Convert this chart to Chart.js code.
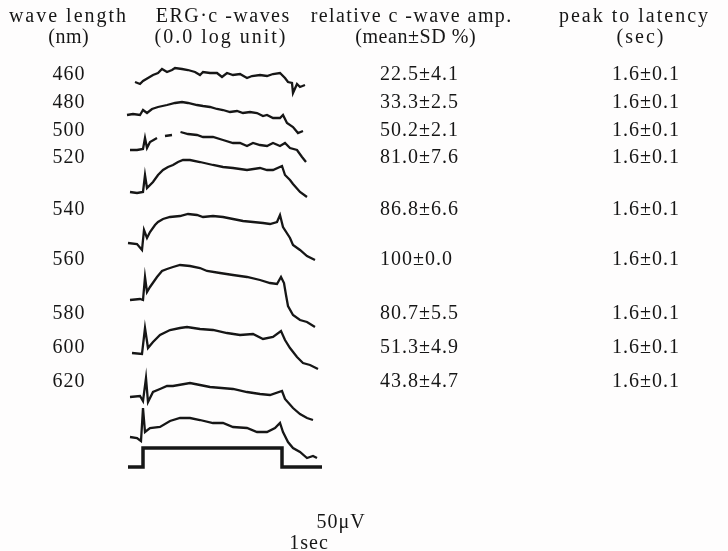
<!doctype html>
<html>
<head>
	<title>ERG c-waves</title>
	<script src="https://cdn.jsdelivr.net/npm/chart.js@4.4.0/dist/chart.umd.min.js"></script>
	<style>
	body { margin: 0; background: #fff; }
	#wrap { width: 728px; height: 551px; position: relative; }
	</style>
</head>
<body>
<div id="wrap"><canvas id="canvas"></canvas></div>
<script>
	// table columns
	var wavelengths = ['460', '480', '500', '520', '540', '560', '580', '600', '620'];
	var relAmp = ['22.5±4.1', '33.3±2.5', '50.2±2.1', '81.0±7.6', '86.8±6.6', '100±0.0', '80.7±5.5', '51.3±4.9', '43.8±4.7'];
	var peakLatency = ['1.6±0.1', '1.6±0.1', '1.6±0.1', '1.6±0.1', '1.6±0.1', '1.6±0.1', '1.6±0.1', '1.6±0.1', '1.6±0.1'];

	// traces: [time (sec from light on), amplitude above pre-stimulus level]
	var trace460 = [[-0.32,1],[-0.12,-1],[0,2],[0.2,5],[0.4,8],[0.6,10],[0.76,14],[0.96,11],[1.16,13],[1.28,15],[1.56,14],[1.8,13],[2.08,11],[2.28,8],[2.4,11],[2.68,10],[2.96,10],[3.16,6],[3.36,10],[3.6,8],[3.88,9],[4.16,5],[4.36,7],[4.68,8],[4.96,7],[5.2,9],[5.48,10],[5.68,5],[5.8,1],[5.96,0],[6.0,-10],[6.16,-1],[6.28,-4],[6.48,-2]];
	var trace480 = [[-0.64,0],[-0.4,1],[-0.12,0],[0,5],[0.16,2],[0.36,6],[0.6,8],[0.96,10],[1.28,12],[1.56,13],[1.8,12],[2.16,10],[2.4,9],[2.68,8],[2.96,6],[3.2,5],[3.48,3],[3.76,4],[4.0,2],[4.28,3],[4.56,2],[4.8,-1],[4.96,0],[5.2,-3],[5.48,-3],[5.6,0],[5.76,-8],[6.0,-12],[6.2,-18],[6.4,-16]];
	// the 500 nm record is broken just after the light-on spike
	var trace500 = [[-0.52,0],[-0.24,0],[0,1],[0.08,12],[0.16,2],[0.28,8],[0.56,12],null,[0.88,14],[1.16,15],null,[1.5,18],[1.8,16],[2.16,15],[2.4,13],[2.8,13],[3.2,10],[3.6,7],[3.88,7],[4.16,4],[4.4,7],[4.68,5],[4.96,4],[5.2,7],[5.48,4],[5.68,7],[5.88,2],[6.16,0],[6.36,-7],[6.52,-12]];
	var trace520 = [[-0.52,0],[-0.24,-1],[0,0],[0.08,17],[0.16,4],[0.4,10],[0.6,17],[0.8,22],[1.0,25],[1.2,27],[1.4,30],[1.6,32],[1.88,32],[2.28,30],[2.8,27],[3.2,25],[3.6,24],[4.16,22],[4.68,24],[4.96,22],[5.2,22],[5.56,26],[5.68,17],[5.88,12],[6.0,8],[6.28,0],[6.56,-5]];
	var trace540 = [[-0.6,1],[-0.24,0],[-0.04,-6],[0.04,14],[0.16,6],[0.28,12],[0.48,19],[0.6,22],[0.8,25],[1.08,27],[1.48,28],[1.8,30],[2.16,29],[2.4,27],[2.8,28],[3.2,27],[3.6,25],[4.0,23],[4.4,22],[4.8,21],[5.08,20],[5.36,22],[5.48,29],[5.6,17],[5.88,6],[6.0,-1],[6.28,-6],[6.56,-12],[6.88,-16]];
	var trace560 = [[-0.52,0],[-0.12,1],[0,0],[0.08,23],[0.16,8],[0.28,13],[0.56,23],[0.76,29],[0.96,31],[1.2,33],[1.48,35],[1.88,34],[2.28,32],[2.56,29],[3.08,27],[3.6,25],[4.16,23],[4.68,20],[5.08,17],[5.36,16],[5.52,23],[5.64,17],[5.72,5],[5.8,-6],[6.0,-15],[6.28,-20],[6.56,-22],[6.88,-27]];
	var trace580 = [[-0.44,1],[-0.04,0],[0.08,26],[0.2,6],[0.4,12],[0.68,19],[1.08,24],[1.48,26],[1.76,27],[2.28,25],[2.8,24],[3.36,21],[3.88,19],[4.4,20],[4.8,15],[5.2,17],[5.52,23],[5.68,14],[5.88,6],[6.16,-3],[6.4,-9],[6.68,-11],[7.0,-15]];
	var trace600 = [[-0.52,0],[-0.12,1],[0,-4],[0.12,19],[0.2,-5],[0.4,5],[0.68,8],[0.96,11],[1.2,11],[1.88,14],[2.28,12],[2.68,10],[3.6,8],[4.16,5],[4.68,3],[5.08,2],[5.56,6],[5.68,-2],[6.0,-11],[6.28,-17],[6.56,-21],[6.8,-23]];
	var trace620 = [[-0.52,1],[-0.24,0],[-0.08,-3],[0,30],[0.08,6],[0.28,10],[0.68,11],[1.08,17],[1.48,20],[1.88,20],[2.28,18],[2.8,15],[3.2,15],[3.6,11],[4.16,10],[4.56,6],[4.96,6],[5.28,10],[5.48,15],[5.6,6],[5.8,-4],[6.0,-10],[6.28,-14],[6.56,-20],[6.8,-18],[6.96,-20]];
	// light stimulus (0 = off, 1 = on)
	var stimulus = [[-0.6,0],[0,0],[0,1],[5.56,1],[5.56,0],[7.16,0]];

	var traces = [trace460, trace480, trace500, trace520, trace540, trace560, trace580, trace600, trace620];

	// layout
	var rowOffset = [468, 436, 401, 359, 307, 251, 197, 154, 113];
	var stimOffset = 84, stimHeight = 19;
	var labelY = [75, 103, 131, 158, 210, 260, 314, 348, 382];
	var ink = '#161616';
	var font = '"Liberation Serif", "DejaVu Serif", serif';

	var datasets = traces.map(function(tr, i) {
		return {
			data: tr.map(function(p) { return p ? { x: p[0], y: rowOffset[i] + p[1] } : { x: NaN, y: null }; }),
			borderColor: ink,
			borderWidth: 2.3,
			pointRadius: 0,
			tension: 0,
			spanGaps: false,
			fill: false
		};
	});
	datasets.push({
		data: stimulus.map(function(p) { return { x: p[0], y: stimOffset + p[1] * stimHeight }; }),
		borderColor: ink,
		borderWidth: 3.5,
		pointRadius: 0,
		tension: 0,
		fill: false
	});

	// spread a head line over its column, but not more than 2px between letters
	function fitText(c, txt, left, right, y) {
		c.letterSpacing = '0px';
		var w = c.measureText(txt).width;
		var ls = Math.max(0, Math.min(2, (right - left - w) / txt.length));
		c.letterSpacing = ls + 'px';
		c.textAlign = 'center';
		c.fillText(txt, (left + right) / 2 + ls / 2, y);
	}

	var textPlugin = {
		id: 'tableText',
		beforeDraw: function(chart) {
			var c = chart.ctx;
			c.save();
			c.fillStyle = '#fefdfd';
			c.fillRect(0, 0, chart.width, chart.height);
			c.restore();
		},
		afterDraw: function(chart) {
			var c = chart.ctx;
			c.save();
			c.fillStyle = ink;
			c.textBaseline = 'middle';
			c.font = '20px ' + font;

			var heads = [
				['wave length', 5, 130, 17], ['(nm)', 48, 89, 38],
				['ERG·c -waves', 155, 290, 17], ['(0.0 log unit)', 148, 292, 38],
				['relative c -wave amp.', 310, 512, 17], ['(mean±SD %)', 355, 476, 38],
				['peak to latency', 545, 722, 17], ['(sec)', 612, 668, 38]
			];
			heads.forEach(function(h) { fitText(c, h[0], h[1], h[2], h[3]); });

			c.letterSpacing = '1px';
			wavelengths.forEach(function(w, i) {
				c.textAlign = 'center';
				c.fillText(w, 69, labelY[i]);
				c.textAlign = 'left';
				c.fillText(relAmp[i], 380, labelY[i]);
				c.fillText(peakLatency[i], 612, labelY[i]);
			});

			c.textAlign = 'center';
			c.fillText('50μV', 341, 523);
			c.fillText('1sec', 309, 544);
			c.restore();
		}
	};

	var ctx = document.getElementById('canvas').getContext('2d');
	window.myChart = new Chart(ctx, {
		type: 'line',
		data: { datasets: datasets },
		plugins: [textPlugin],
		options: {
			responsive: true,
			maintainAspectRatio: false,
			animation: false,
			layout: { padding: 0 },
			plugins: { legend: { display: false }, tooltip: { enabled: false } },
			scales: {
				x: { type: 'linear', min: -5.72, max: 23.4, display: false },
				y: { type: 'linear', min: 0, max: 551, display: false }
			}
		}
	});
</script>
</body>
</html>
